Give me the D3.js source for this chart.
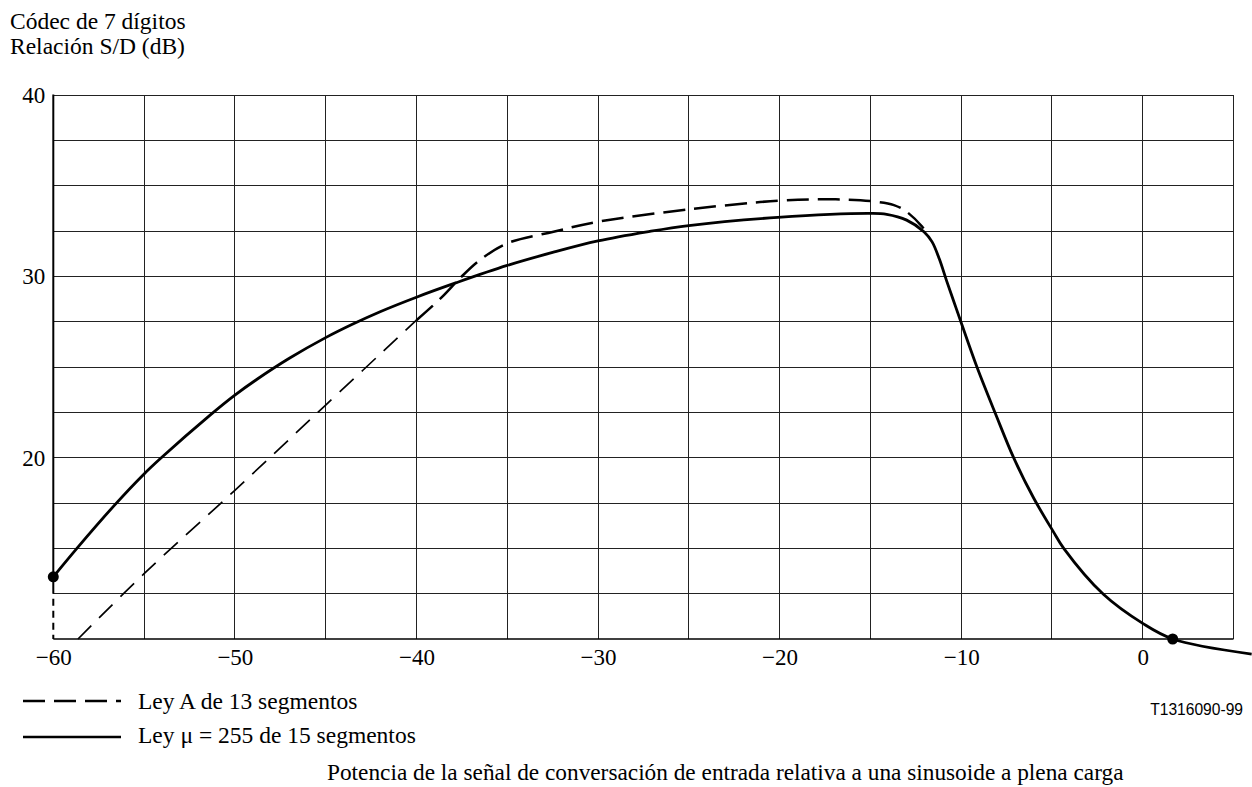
<!DOCTYPE html>
<html>
<head>
<meta charset="utf-8">
<script src="https://cdn.jsdelivr.net/npm/d3@7"></script>
<style>
  body { margin: 0; background: #fff; }
  svg { display: block; }
  text { font-family: "Liberation Serif", "Times New Roman", serif; fill: #000; }
  text.code { font-family: "Liberation Sans", Arial, sans-serif; }
</style>
</head>
<body>
<svg id="chart" width="1252" height="787"></svg>
<script>
// u-law (solid) curve
var muX = [-60, -58.7, -56.7, -55, -54.1, -51.3, -50, -48.8, -47, -45, -43.5, -42, -40, -37.8, -35, -32.45, -30, -27.3, -25, -20.1, -15, -14.1, -13, -12.05, -11.6, -11.2, -10.8, -10.4, -10, -9.13, -8.12, -7.11, -6, -4.94, -4.35, -2.15, 0, 1.65, 6];
var muY = [13.43, 15.0, 17.3, 19.1, 19.95, 22.4, 23.45, 24.31, 25.48, 26.62, 27.37, 28.05, 28.85, 29.65, 30.6, 31.33, 31.95, 32.45, 32.8, 33.25, 33.47, 33.42, 33.1, 32.46, 31.9, 30.95, 29.75, 28.6, 27.45, 25.0, 22.45, 20.0, 17.76, 15.95, 15.0, 12.45, 10.86, 10.0, 9.17];

// A-law (dashed) curve
var aX = [-58.64, -55, -50, -45, -40, -38.6, -37.6, -36.5, -35, -32.45, -30, -25, -20.1, -17.3, -15, -13.7, -13, -12.15, -11.85];
var aY = [10, 13.6, 18.2, 22.9, 27.58, 28.85, 29.9, 30.9, 31.82, 32.46, 33.01, 33.69, 34.17, 34.25, 34.15, 33.93, 33.56, 32.74, 32.3];

// marked points on the u-law curve
var dotX = [-60, 1.65];
var dotY = [13.43, 10.0];

var xTicks = [-60, -50, -40, -30, -20, -10, 0];
var yTicks = [20, 30, 40];

var svg = d3.select('#chart');

var x = d3.scaleLinear().domain([-60, 5]).range([53.3, 1233.5]);
var y = d3.scaleLinear().domain([10, 40]).range([639, 95]);

// grid
var grid = svg.append('g').attr('class', 'grid')
  .attr('stroke', '#222').attr('stroke-width', 1).attr('shape-rendering', 'crispEdges');

grid.selectAll('line.v')
  .data(d3.range(-55, 5.1, 5))
  .enter().append('line')
  .attr('class', 'v')
  .attr('x1', function(d) { return x(d); })
  .attr('x2', function(d) { return x(d); })
  .attr('y1', y(10)).attr('y2', y(40));

grid.selectAll('line.h')
  .data(d3.range(12.5, 40.1, 2.5))
  .enter().append('line')
  .attr('class', 'h')
  .attr('x1', x(-60)).attr('x2', x(5))
  .attr('y1', function(d) { return y(d); })
  .attr('y2', function(d) { return y(d); });

// axes lines
svg.append('line')
  .attr('x1', x(-60)).attr('x2', x(5))
  .attr('y1', y(10)).attr('y2', y(10))
  .attr('stroke', '#000').attr('stroke-width', 1.3);
// left axis is solid down to the first grid line, dashed below it
svg.append('line')
  .attr('x1', x(-60)).attr('x2', x(-60))
  .attr('y1', y(12.5)).attr('y2', y(40) - 0.5)
  .attr('stroke', '#000').attr('stroke-width', 2);
svg.append('line')
  .attr('x1', x(-60)).attr('x2', x(-60))
  .attr('y1', y(12.5) + 5).attr('y2', y(10))
  .attr('stroke', '#000').attr('stroke-width', 2)
  .attr('stroke-dasharray', '7,5');

// tick labels
var xAxis = svg.append('g')
  .attr('transform', 'translate(0,' + y(10) + ')')
  .call(d3.axisBottom(x).tickValues(xTicks).tickSize(0).tickPadding(10));
xAxis.select('.domain').remove();
xAxis.selectAll('text')
  .attr('font-size', 23).attr('fill', '#000');

var yAxis = svg.append('g')
  .attr('transform', 'translate(' + x(-60) + ',0)')
  .call(d3.axisLeft(y).tickValues(yTicks).tickSize(0).tickPadding(8));
yAxis.select('.domain').remove();
yAxis.selectAll('text')
  .attr('font-size', 23).attr('fill', '#000');

// curves
var muData = muX.map(function(d, i) { return [d, muY[i]]; });
var aData = aX.map(function(d, i) { return [d, aY[i]]; });

var line = d3.line()
  .x(function(d) { return x(d[0]); })
  .y(function(d) { return y(d[1]); })
  .curve(d3.curveCatmullRom.alpha(0.5));

// lower, thinner part of the A-law line
svg.append('path')
  .datum(aData.filter(function(d) { return d[0] <= -40; }))
  .attr('d', line)
  .attr('fill', 'none').attr('stroke', '#000')
  .attr('stroke-width', 1.7).attr('stroke-dasharray', '19,11');

svg.append('path')
  .datum(aData.filter(function(d) { return d[0] >= -40; }))
  .attr('d', line)
  .attr('fill', 'none').attr('stroke', '#000')
  .attr('stroke-width', 2.5).attr('stroke-dasharray', '22,9');

svg.append('path')
  .datum(muData)
  .attr('d', line)
  .attr('fill', 'none').attr('stroke', '#000')
  .attr('stroke-width', 2.8);

svg.selectAll('circle.dot')
  .data(dotX)
  .enter().append('circle')
  .attr('class', 'dot')
  .attr('cx', function(d) { return x(d); })
  .attr('cy', function(d, i) { return y(dotY[i]); })
  .attr('r', 5.5)
  .attr('fill', '#000');

// titles
svg.append('text').attr('x', 10).attr('y', 29).attr('font-size', 23.5).text('Códec de 7 dígitos');
svg.append('text').attr('x', 10).attr('y', 54).attr('font-size', 23.5).text('Relación S/D (dB)');

// legend
svg.append('line')
  .attr('x1', 23).attr('x2', 121).attr('y1', 701).attr('y2', 701)
  .attr('stroke', '#000').attr('stroke-width', 2.5).attr('stroke-dasharray', '22,9');
svg.append('text').attr('x', 138).attr('y', 709).attr('font-size', 23.5).text('Ley A de 13 segmentos');

svg.append('line')
  .attr('x1', 23).attr('x2', 121).attr('y1', 737).attr('y2', 737)
  .attr('stroke', '#000').attr('stroke-width', 2.5);
svg.append('text').attr('x', 138).attr('y', 743).attr('font-size', 23.5).text('Ley μ = 255 de 15 segmentos');

svg.append('text')
  .attr('class', 'code')
  .attr('x', 1243).attr('y', 715)
  .attr('text-anchor', 'end')
  .attr('font-size', 15.6)
  .text('T1316090-99');

svg.append('text')
  .attr('x', 327).attr('y', 780)
  .attr('font-size', 23.3)
  .text('Potencia de la señal de conversación de entrada relativa a una sinusoide a plena carga');
</script>
</body>
</html>
